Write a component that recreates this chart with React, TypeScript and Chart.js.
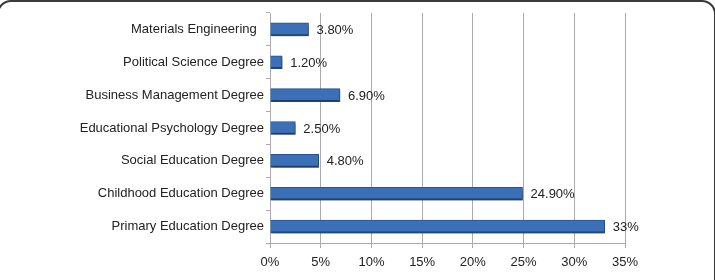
import React, { useEffect, useRef } from "react";
import { Chart, registerables } from "chart.js";

Chart.register(...registerables);

const categories = [
  "Materials Engineering  ",
  "Political Science Degree",
  "Business Management Degree",
  "Educational Psychology Degree",
  "Social Education Degree",
  "Childhood Education Degree",
  "Primary Education Degree",
];
const values = [3.8, 1.2, 6.9, 2.5, 4.8, 24.9, 33];
const valueLabels = ["3.80%", "1.20%", "6.90%", "2.50%", "4.80%", "24.90%", "33%"];
const xTicks = [0, 5, 10, 15, 20, 25, 30, 35];

const FONT = "'Liberation Sans', Arial, Helvetica, sans-serif";

export default function App() {
  const ref = useRef<HTMLCanvasElement | null>(null);

  useEffect(() => {
    if (!ref.current) return;
    const shadowPlugin = {
      id: "barShadow",
      beforeDatasetsDraw(chart: any) {
        const c = chart.ctx;
        c.save();
        c.shadowColor = "rgba(0,0,0,0.35)";
        c.shadowBlur = 3;
        c.shadowOffsetX = 1;
        c.shadowOffsetY = 2;
      },
      afterDatasetsDraw(chart: any) {
        const c = chart.ctx;
        c.restore();
        const meta = chart.getDatasetMeta(0);
        c.save();
        c.font = `13px ${FONT}`;
        c.fillStyle = "#222";
        c.textAlign = "left";
        c.textBaseline = "middle";
        meta.data.forEach((el: any, i: number) => {
          c.fillText(valueLabels[i], el.x + 8, el.y + 1);
        });
        c.restore();
      },
    };

    const chart = new Chart(ref.current, {
      type: "bar",
      data: {
        labels: categories,
        datasets: [
          {
            data: values,
            backgroundColor: "#3b6fb8",
            borderColor: "#2a5592",
            borderWidth: { top: 1, bottom: 2, right: 1, left: 0 } as any,
            borderSkipped: "start",
            barThickness: 13,
          },
        ],
      },
      options: {
        indexAxis: "y",
        responsive: false,
        animation: false,
        layout: { padding: { top: 13, right: 90, left: 0, bottom: 0 } },
        plugins: { legend: { display: false }, tooltip: { enabled: false } },
        scales: {
          x: {
            min: 0,
            max: 35,
            afterFit(scale: any) {
              scale.height = 37;
            },
            afterBuildTicks(scale: any) {
              scale.ticks = xTicks.map((v) => ({ value: v }));
            },
            ticks: {
              callback: (v: any) => `${v}%`,
              font: { family: FONT, size: 13 },
              color: "#222",
              padding: 7,
              maxRotation: 0,
            },
            grid: { color: "#aaaaaa", lineWidth: 1, tickLength: 5, drawTicks: true },
            border: { color: "#aaaaaa" },
          },
          y: {
            afterFit(scale: any) {
              scale.width = 270;
            },
            ticks: {
              font: { family: FONT, size: 13 },
              color: "#222",
              padding: 2,
            },
            grid: {
              offset: true,
              drawOnChartArea: false,
              tickLength: 4,
              color: "#aaaaaa",
            },
            border: { color: "#aaaaaa" },
          },
        },
      },
      plugins: [shadowPlugin],
    });
    return () => chart.destroy();
  }, []);

  return (
    <div
      style={{
        position: "fixed",
        left: 0,
        top: 0,
        width: 715,
        height: 280,
        background: "#fff",
        overflow: "hidden",
      }}
    >
      <canvas ref={ref} width={715} height={280} style={{ position: "absolute", left: 0, top: 0 }} />
      <div
        style={{
          position: "absolute",
          left: -3,
          top: 0,
          width: 715,
          height: 330,
          border: "2px solid #3a3a3a",
          borderRadius: 14,
          pointerEvents: "none",
        }}
      />
    </div>
  );
}
